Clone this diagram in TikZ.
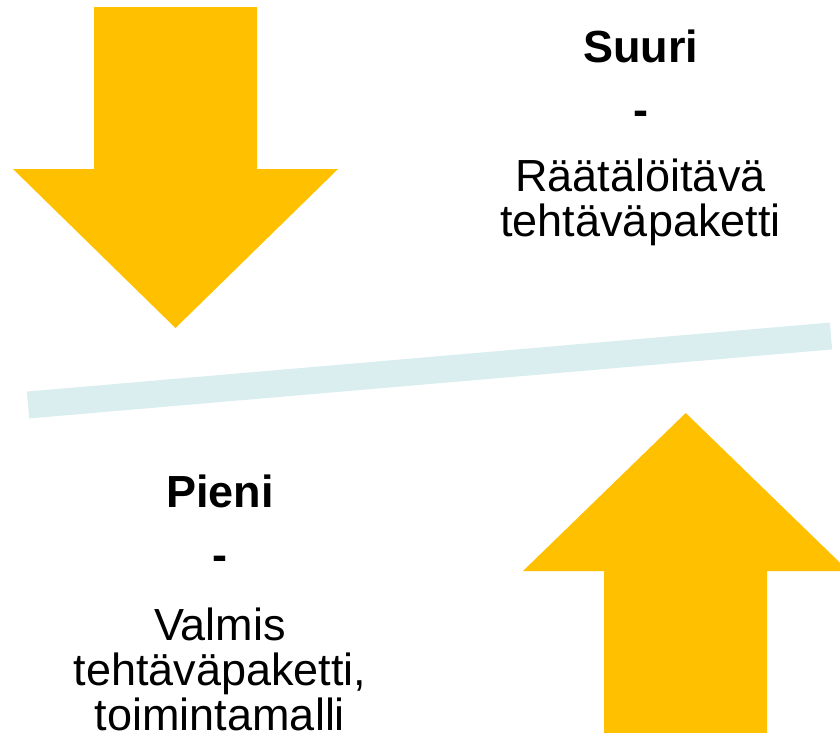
\documentclass[tikz,border=0pt]{standalone}
\usepackage{fontspec}
\setmainfont{Liberation Sans}
\definecolor{arrowcolor}{RGB}{255,192,0}
\definecolor{barcolor}{RGB}{218,237,239}

\begin{document}
\begin{tikzpicture}[x=1pt, y=-1pt, every node/.style={inner sep=0pt, anchor=base},
		label/.style={font=\fontsize{45}{45}\selectfont, align=center},
		title/.style={font=\fontsize{45}{45}\selectfont\bfseries}]
		\useasboundingbox (0,0) rectangle (840,732);
		\clip (0,0) rectangle (840,732);
		
		% arrows
		\fill[arrowcolor] (94,7) -- (257,7) -- (257,169) -- (338,169) -- (175.5,328) -- (13,169) -- (94,169) -- cycle;
		\fill[arrowcolor] (604,740) -- (767,740) -- (767,571) -- (848.5,571) -- (685.7,413) -- (523,571) -- (604,571) -- cycle;
		
		% bar
		\draw[barcolor, line width=27pt] (28,405) -- (831,336);
		
		% upper text (base = last line)
		\node[title] (Suuri) at (640.5,62.5) {Suuri};
		\node[title] (SuuriDash) at (640.5,125) {-};
		\node[label] (SuuriText) at (640.5,236) {Räätälöitävä\\tehtäväpaketti};
		
		% lower text
		\node[title] (Pieni) at (220,507) {Pieni};
		\node[title] (PieniDash) at (220,570) {-};
		\node[label] (PieniText) at (220,730) {Valmis\\tehtäväpaketti,\\toimintamalli};
	\end{tikzpicture}
\end{document}
